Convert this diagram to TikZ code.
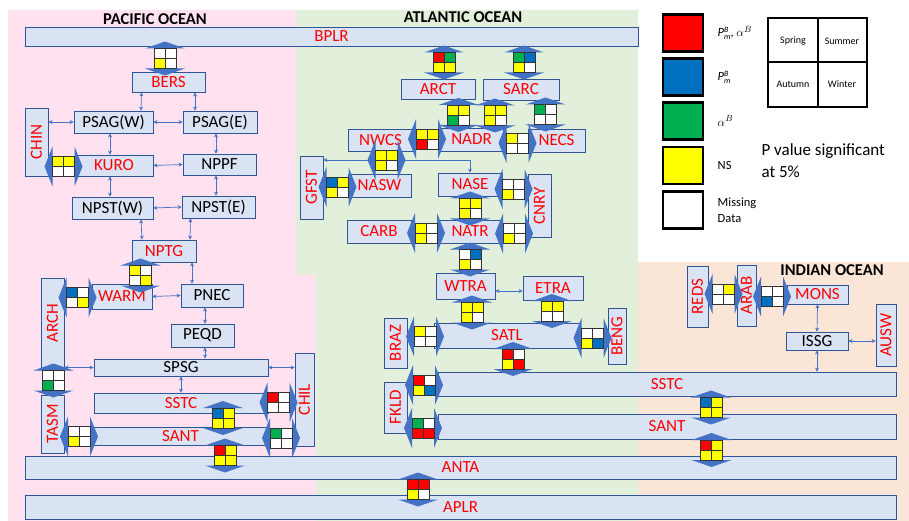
\documentclass[tikz,border=0pt]{standalone}
\usepackage{fontspec}
\setmainfont{Carlito}
\usepackage{graphicx}
\usetikzlibrary{arrows.meta,positioning}

\definecolor{pacpink}{HTML}{FFE1EF}
\definecolor{atlgreen}{HTML}{E2EFDA}
\definecolor{indorange}{HTML}{FBE5D6}
\definecolor{boxfill}{HTML}{DAE3F3}
\definecolor{boxline}{HTML}{2F5597}
\definecolor{linkblue}{HTML}{4472C4}
\definecolor{cR}{HTML}{FF0000}
\definecolor{cB}{HTML}{0070C0}
\definecolor{cG}{HTML}{00B050}
\definecolor{cY}{HTML}{FFFF00}
\definecolor{cW}{HTML}{FFFFFF}

% P with stacked B and m for the legend
\newcommand{\keyP}{\textit{P}\raisebox{-3pt}{\fontsize{8}{8}\selectfont\shortstack[l]{\textit{B}\\\textit{m}}}}

\begin{document}
\begin{tikzpicture}[x=1pt,y=-1pt,>={Stealth[length=4pt,width=4pt]},
        sz/.style 2 args={minimum width=#1pt,minimum height=#2pt},
        ocbox/.style={draw=boxline,line width=0.8pt,fill=boxfill,inner sep=0pt,
                      font=\fontsize{17}{17}\selectfont},
        ocred/.style={ocbox,text=cR},
        thinlink/.style={<->,linkblue,line width=0.7pt},
        onelink/.style={->,linkblue,line width=0.7pt},
        cellline/.style={draw=black!80,line width=0.6pt},
        keybox/.style={draw=black,line width=2.4pt,minimum width=40pt,
                       minimum height=37pt,inner sep=0pt},
        keytext/.style={anchor=west,align=left,font=\fontsize{12.5}{15.5}\selectfont},
        season/.style={font=\fontsize{10}{10}\selectfont},
        title/.style={font=\fontsize{16.5}{17}\selectfont\bfseries},
        pics/cells/.style n args={4}{code={
            \draw[cellline,fill=#1] (-11,-10) rectangle (0,0);
            \draw[cellline,fill=#2] (0,-10) rectangle (11,0);
            \draw[cellline,fill=#3] (-11,0) rectangle (0,10);
            \draw[cellline,fill=#4] (0,0) rectangle (11,10);}},
        pics/vlink/.style n args={4}{code={
            \fill[linkblue] (0,-17) -- (20,-10) -- (8,-10) -- (8,10) -- (20,10) -- (0,17)
                -- (-20,10) -- (-8,10) -- (-8,-10) -- (-20,-10) -- cycle;
            \pic {cells={#1}{#2}{#3}{#4}};}},
        pics/hlink/.style n args={4}{code={
            \fill[linkblue] (-19,0) -- (-11,-20) -- (-11,-8) -- (11,-8) -- (11,-20) -- (19,0)
                -- (11,20) -- (11,8) -- (-11,8) -- (-11,20) -- cycle;
            \pic {cells={#1}{#2}{#3}{#4}};}}]
    \useasboundingbox (0,0) rectangle (909,521);

    % ocean regions
    \fill[pacpink] (8,10) -- (296,10) -- (296,275) -- (316,275) -- (316,521) -- (8,521) -- cycle;
    \fill[atlgreen] (296,10) -- (638,10) -- (638,521) -- (316,521) -- (316,275) -- (296,275) -- cycle;
    \fill[indorange] (638,262) rectangle (909,521);
    \node[title] (tpac) at (155,19) {PACIFIC OCEAN};
    \node[title] (tatl) at (463,17) {ATLANTIC OCEAN};
    \node[title] (tind) at (832,270) {INDIAN OCEAN};

    % Pacific
    \node[ocred,sz={613}{19}] (bplr) at (331.5,36.5) {BPLR};
    \node[ocred,sz={73}{20}] (bers) at (168.5,82) {BERS};
    \node[ocbox,sz={79}{22}] (psagw) at (113.5,122) {PSAG(W)};
    \node[ocbox,sz={74}{22}] (psage) at (220,122) {PSAG(E)};
    \node[ocred,sz={23}{68}] (chin) at (36.5,142) {\rotatebox{90}{CHIN}};
    \node[ocred,sz={78}{21}] (kuro) at (114,165.5) {KURO};
    \node[ocbox,sz={73}{21}] (nppf) at (219.5,164.5) {NPPF};
    \node[ocbox,sz={81}{22}] (npstw) at (112.5,208) {NPST(W)};
    \node[ocbox,sz={73}{22}] (npste) at (218.5,207) {NPST(E)};
    \node[ocred,sz={64}{22}] (nptg) at (164,251) {NPTG};
    \node[ocred,sz={60}{25}] (warm) at (122,296.5) {WARM};
    \node[ocbox,sz={62}{23}] (pnec) at (212,295.5) {PNEC};
    \node[ocbox,sz={63}{23}] (peqd) at (202.5,335.5) {PEQD};
    \node[ocred,sz={23}{90}] (arch) at (52.5,323) {\rotatebox{90}{ARCH}};
    \node[ocred,sz={23}{58}] (tasm) at (52.5,424) {\rotatebox{90}{TASM}};
    \node[ocbox,sz={174}{17}] (spsg) at (181,367.5) {SPSG};
    \node[ocred,sz={174}{20}] (sstcp) at (181,403) {SSTC};
    \node[ocred,sz={175}{18}] (santp) at (180.5,436) {SANT};
    \node[ocred,sz={19}{93}] (chil) at (304.5,399.5) {\rotatebox{90}{CHIL}};
    \node[ocred,sz={871}{23}] (anta) at (460.5,467.5) {ANTA};
    \node[ocred,sz={871}{24}] (aplr) at (460.5,507) {APLR};

    % Atlantic
    \node[ocred,sz={74}{20}] (arct) at (438,89) {ARCT};
    \node[ocred,sz={76}{21}] (sarc) at (521,89.5) {SARC};
    \node[ocred,sz={65}{22}] (nwcs) at (380.5,140) {NWCS};
    \node[ocred,sz={63}{23}] (nadr) at (471.5,139.5) {NADR};
    \node[ocred,sz={57}{23}] (necs) at (556.5,140.5) {NECS};
    \node[ocred,sz={23}{63}] (gfst) at (311.5,187.5) {\rotatebox{90}{GFST}};
    \node[ocred,sz={63}{23}] (nasw) at (379.5,185.5) {NASW};
    \node[ocred,sz={64}{23}] (nase) at (470,184.5) {NASE};
    \node[ocred,sz={23}{63}] (cnry) at (539.5,205.5) {\rotatebox{90}{CNRY}};
    \node[ocred,sz={64}{23}] (carb) at (379,231.5) {CARB};
    \node[ocred,sz={64}{23}] (natr) at (470,231.5) {NATR};
    \node[ocred,sz={59}{26}] (wtra) at (465.5,286) {WTRA};
    \node[ocred,sz={60}{24}] (etra) at (553,288) {ETRA};
    \node[ocred,sz={146}{25}] (satl) at (507,335.5) {SATL};
    \node[ocred,sz={23}{50}] (braz) at (395.5,343) {\rotatebox{90}{BRAZ}};
    \node[ocred,sz={18}{56}] (beng) at (617,336) {\rotatebox{90}{BENG}};
    \node[ocred,sz={23}{51}] (fkld) at (395.5,407.5) {\rotatebox{90}{FKLD}};
    \node[ocred,sz={458}{24}] (sstca) at (667,384) {SSTC};
    \node[ocred,sz={458}{25}] (santa) at (667,426.5) {SANT};

    % Indian
    \node[ocred,sz={21}{61}] (reds) at (697.5,296.5) {\rotatebox{90}{REDS}};
    \node[ocred,sz={19}{61}] (arab) at (746.5,295.5) {\rotatebox{90}{ARAB}};
    \node[ocred,sz={61}{19}] (mons) at (817.5,294.5) {MONS};
    \node[ocbox,sz={62}{18}] (issg) at (817,341) {ISSG};
    \node[ocred,sz={20}{62}] (ausw) at (886,335) {\rotatebox{90}{AUSW}};

    % thin links
    \draw[thinlink] ([xshift=-27pt]bers.south) -- ([xshift=27.5pt]psagw.north);
    \draw[thinlink] ([xshift=26.5pt]bers.south) -- ([xshift=-25pt]psage.north);
    \draw[thinlink] (chin.east |- psagw.west) -- (psagw.west);
    \draw[thinlink] (psagw.east) -- (psage.west);
    \draw[thinlink] ([xshift=-3.5pt]psagw.south) -- ([xshift=-4pt]kuro.north);
    \draw[thinlink] ([xshift=-4pt]psage.south) -- ([xshift=-3.5pt]nppf.north);
    \draw[thinlink] (kuro.east) -- (nppf.west);
    \draw[thinlink] ([xshift=-4pt]kuro.south) -- ([xshift=-2.5pt]npstw.north);
    \draw[thinlink] ([xshift=-3.5pt]nppf.south) -- ([xshift=-2.5pt]npste.north);
    \draw[thinlink] (npstw.east) -- (npste.west);
    \draw[thinlink] ([xshift=28.5pt]npstw.south) -- ([xshift=-22pt]nptg.north);
    \draw[thinlink] ([xshift=-28pt]npste.south) -- ([xshift=26pt]nptg.north);
    \draw[thinlink] ([xshift=28pt]nptg.south) -- ([xshift=-20pt]pnec.north);
    \draw[thinlink] (warm.east) -- (pnec.west);
    \draw[thinlink] ([xshift=-7pt]pnec.south) -- ([xshift=2.5pt]peqd.north);
    \draw[thinlink] ([xshift=2.5pt]peqd.south) -- ([xshift=24pt]spsg.north);
    \draw[thinlink] (arch.east |- spsg.west) -- (spsg.west);
    \draw[thinlink] (spsg.east) -- (chil.west |- spsg.east);
    \draw[thinlink] (spsg.south) -- (sstcp.north);
    \coordinate (split) at (415,160);
    \draw[onelink] (split) -- (gfst.east |- split);
    \draw[onelink] (split) -| (nase.north);
    \draw[thinlink] ([yshift=-5pt]wtra.east) -- ([yshift=-3pt]etra.west);
    \draw[thinlink] (mons.south) -- (issg.north);
    \draw[thinlink] (issg.east) -- (ausw.west |- issg.east);
    \draw[thinlink] (issg.south) -- (sstca.north -| issg.south);

    % block links with seasonal cells
    \pic at (165,58.5) {vlink={cW}{cW}{cY}{cW}};
    \pic at (63.5,166.5) {hlink={cY}{cY}{cW}{cW}};
    \pic at (140.5,275.5) {vlink={cY}{cW}{cW}{cY}};
    \pic at (77.5,297.5) {hlink={cB}{cW}{cW}{cY}};
    \pic at (53.5,380.5) {vlink={cW}{cW}{cG}{cW}};
    \pic at (79,436.5) {hlink={cW}{cW}{cY}{cW}};
    \pic at (278.5,402.5) {hlink={cR}{cW}{cW}{cW}};
    \pic at (281,438) {hlink={cG}{cW}{cW}{cW}};
    \pic at (223,418) {vlink={cB}{cY}{cY}{cY}};
    \pic at (225,455.5) {vlink={cR}{cY}{cY}{cY}};
    \pic at (444,62.5) {vlink={cR}{cG}{cY}{cY}};
    \pic at (524,62.5) {vlink={cG}{cB}{cY}{cW}};
    \pic at (458.5,115) {vlink={cY}{cY}{cG}{cW}};
    \pic at (495,115.5) {vlink={cY}{cY}{cY}{cW}};
    \pic at (545.5,114.5) {vlink={cG}{cW}{cW}{cW}};
    \pic at (427,139) {hlink={cY}{cY}{cR}{cW}};
    \pic at (517.5,143) {hlink={cY}{cW}{cW}{cW}};
    \pic at (386.5,160) {hlink={cY}{cY}{cY}{cW}};
    \pic at (337.5,187) {hlink={cB}{cY}{cY}{cW}};
    \pic at (513.5,189) {hlink={cW}{cW}{cY}{cW}};
    \pic at (470,208.5) {vlink={cY}{cY}{cY}{cW}};
    \pic at (426,233) {hlink={cY}{cW}{cY}{cW}};
    \pic at (514,233.5) {hlink={cW}{cW}{cY}{cW}};
    \pic at (470,259.5) {vlink={cW}{cB}{cY}{cW}};
    \pic at (472,312.5) {vlink={cY}{cY}{cY}{cW}};
    \pic at (552,311) {vlink={cY}{cY}{cW}{cW}};
    \pic at (425,336.5) {hlink={cY}{cW}{cW}{cW}};
    \pic at (592.5,338) {hlink={cW}{cW}{cY}{cB}};
    \pic at (513,359) {vlink={cR}{cW}{cY}{cR}};
    \pic at (424,385) {hlink={cR}{cW}{cY}{cB}};
    \pic at (423,428) {hlink={cG}{cW}{cR}{cR}};
    \pic at (418,489.5) {vlink={cR}{cR}{cY}{cW}};
    \pic at (711,407.5) {vlink={cB}{cY}{cY}{cY}};
    \pic at (711.5,450) {vlink={cR}{cY}{cY}{cY}};
    \pic at (723.5,294) {hlink={cW}{cY}{cW}{cW}};
    \pic at (772,296.5) {hlink={cW}{cW}{cB}{cW}};

    % legend
    \node[keybox,fill=cR] (kboth) at (683,33) {};
    \node[keybox,fill=cB] (kpm) at (683,77) {};
    \node[keybox,fill=cG] (kalpha) at (683,121) {};
    \node[keybox,fill=cY] (kns) at (683,165.5) {};
    \node[keybox,fill=cW] (kmiss) at (683,210) {};
    \node[keytext,right=10pt of kboth] (tboth) {\keyP, $\alpha^{B}$};
    \node[keytext,right=10pt of kpm] (tpm) {\keyP};
    \node[keytext,right=10pt of kalpha] (talpha) {$\alpha^{B}$};
    \node[keytext,right=10pt of kns] (tns) {NS};
    \node[keytext,right=10pt of kmiss] (tmiss) {Missing\\Data};
    \node[draw=black,line width=2pt,sz={99}{89}] (seasons) at (817.5,62.5) {};
    \draw[black,line width=2pt] (seasons.north) -- (seasons.south);
    \draw[black,line width=2pt] (seasons.west) -- (seasons.east);
    \node[season] (spring) at (793,41) {Spring};
    \node[season] (summer) at (842,41) {Summer};
    \node[season] (autumn) at (793,84) {Autumn};
    \node[season] (winter) at (842,84) {Winter};
    \node[anchor=west,align=left,font=\fontsize{17}{22}\selectfont] (pval) at (758,161)
        {P value significant\\at 5\%};
\end{tikzpicture}
\end{document}
